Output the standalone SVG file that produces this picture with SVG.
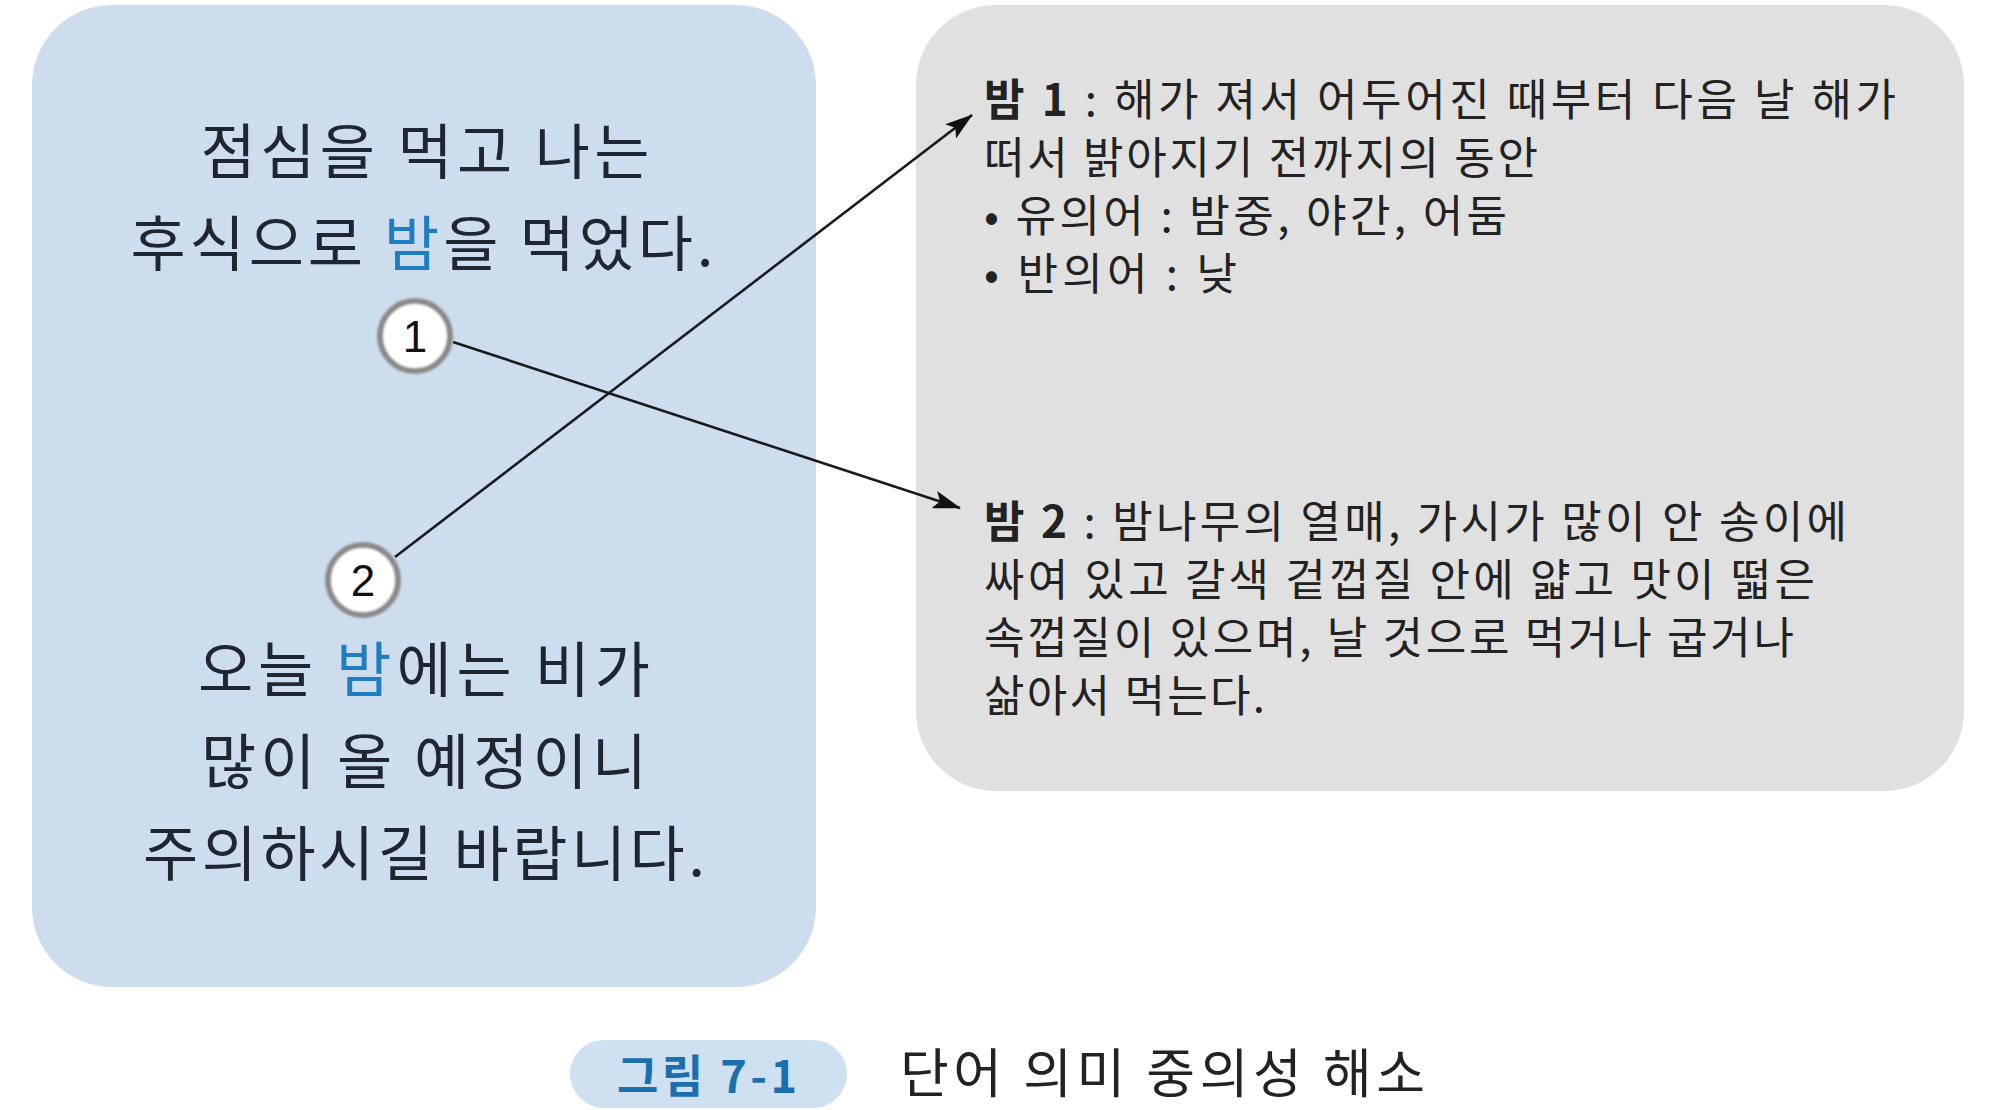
<svg xmlns="http://www.w3.org/2000/svg" width="2000" height="1110" viewBox="0 0 2000 1110">
<style>
.sent{font-family:"Noto Sans CJK KR","Noto Sans",sans-serif;font-size:60px;fill:#1f2630;text-anchor:middle}
.hl{fill:#1f7ec2}
.def{font-family:"Noto Sans CJK KR","Noto Sans",sans-serif;font-size:44px;fill:#222}
.b{font-weight:bold}
.num{font-family:"Liberation Sans","Noto Sans",sans-serif;font-size:44px;fill:#111;text-anchor:middle}
.cap{font-family:"Noto Sans CJK KR","Noto Sans",sans-serif;font-size:53px;fill:#222}
.capl{font-family:"Noto Sans CJK KR","Noto Sans",sans-serif;font-size:45px;font-weight:bold;fill:#1b6fae;text-anchor:middle}
.badge{fill:#fff;stroke:#8a8a8a;stroke-width:6}
.conn{fill:none;stroke:#1a1a1a;stroke-width:2.6}
</style>
<defs>
<marker id="arr" markerUnits="userSpaceOnUse" markerWidth="28" markerHeight="18" viewBox="0 0 28 18" refX="27" refY="9" orient="auto">
<path d="M0,0 L28,9 L0,18 L6,9 z" fill="#111"/>
</marker>
<filter id="soft" x="-20%" y="-20%" width="140%" height="140%">
<feGaussianBlur stdDeviation="0.9"/>
</filter>
</defs>
<rect width="2000" height="1110" fill="#fff"/>

<g id="sentences">
<rect x="32" y="5" width="784" height="982" rx="80" ry="80" fill="#cedded"/>
<text class="sent" x="425" y="174" textLength="449" lengthAdjust="spacing">점심을 먹고 나는</text>
<text class="sent" x="422" y="266" textLength="583" lengthAdjust="spacing">후식으로 <tspan class="hl">밤</tspan>을 먹었다.</text>
<text class="sent" x="424" y="692" textLength="452" lengthAdjust="spacing">오늘 <tspan class="hl">밤</tspan>에는 비가</text>
<text class="sent" x="424" y="784" textLength="446" lengthAdjust="spacing">많이 올 예정이니</text>
<text class="sent" x="424" y="876" textLength="562" lengthAdjust="spacing">주의하시길 바랍니다.</text>
</g>

<g id="definitions">
<rect x="916" y="5" width="1048" height="786" rx="80" ry="80" fill="#e0e0e0"/>
<text class="def" x="984" y="116" textLength="912" lengthAdjust="spacing"><tspan class="b">밤 1</tspan> : 해가 져서 어두어진 때부터 다음 날 해가</text>
<text class="def" x="984" y="174" textLength="554" lengthAdjust="spacing">떠서 밝아지기 전까지의 동안</text>
<text class="def" x="984" y="232" textLength="523" lengthAdjust="spacing">• 유의어 : 밤중, 야간, 어둠</text>
<text class="def" x="984" y="290" textLength="253" lengthAdjust="spacing">• 반의어 : 낮</text>
<text class="def" x="984" y="538" textLength="863" lengthAdjust="spacing"><tspan class="b">밤 2</tspan> : 밤나무의 열매, 가시가 많이 안 송이에</text>
<text class="def" x="984" y="596" textLength="831" lengthAdjust="spacing">싸여 있고 갈색 겉껍질 안에 얇고 맛이 떫은</text>
<text class="def" x="984" y="654" textLength="810" lengthAdjust="spacing">속껍질이 있으며, 날 것으로 먹거나 굽거나</text>
<text class="def" x="984" y="712" textLength="281" lengthAdjust="spacing">삶아서 먹는다.</text>
</g>

<g id="connectors">
<line class="conn" x1="453" y1="342" x2="960" y2="508" marker-end="url(#arr)"/>
<line class="conn" x1="395" y1="557" x2="972" y2="115" marker-end="url(#arr)"/>
</g>

<g id="badge1">
<circle class="badge" cx="415" cy="336" r="35" filter="url(#soft)"/>
<text class="num" x="415" y="352">1</text>
</g>
<g id="badge2">
<circle class="badge" cx="363" cy="580" r="35" filter="url(#soft)"/>
<text class="num" x="363" y="596">2</text>
</g>

<g id="caption">
<rect x="570" y="1040" width="277" height="68" rx="34" ry="34" fill="#cfe0f0"/>
<text class="capl" x="707" y="1093" textLength="180" lengthAdjust="spacing">그림 7-1</text>
<text class="cap" x="900" y="1093" textLength="525" lengthAdjust="spacing">단어 의미 중의성 해소</text>
</g>
</svg>
